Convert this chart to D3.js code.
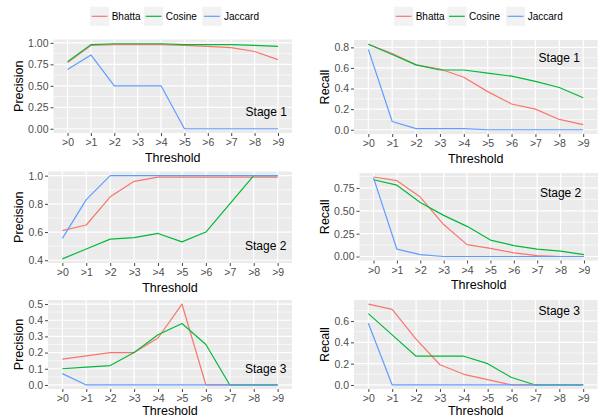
<!DOCTYPE html>
<html>
<head>
<meta charset="utf-8">
<script src="https://cdn.jsdelivr.net/npm/d3@7"></script>
<style>
  html, body { margin: 0; padding: 0; background: #ffffff; }
  svg { display: block; }
  text { font-family: "Liberation Sans", Arial, Helvetica, sans-serif; }
</style>
</head>
<body>
<svg id="chart" width="602" height="417"></svg>
<script>
// ---------------- DATA ----------------
const thresholds = [">0", ">1", ">2", ">3", ">4", ">5", ">6", ">7", ">8", ">9"];
const seriesNames = ["Bhatta", "Cosine", "Jaccard"];
const seriesColors = ["#F8766D", "#00BA38", "#619CFF"];

// Precision, Stage 1
const precStage1Bhatta  = [0.77, 0.97, 0.98, 0.98, 0.98, 0.97, 0.96, 0.945, 0.90, 0.805];
const precStage1Cosine  = [0.78, 0.98, 0.99, 0.99, 0.99, 0.98, 0.98, 0.98, 0.97, 0.96];
const precStage1Jaccard = [0.69, 0.86, 0.50, 0.50, 0.50, 0.00, 0.00, 0.00, 0.00, 0.00];
// Precision, Stage 2
const precStage2Bhatta  = [0.61, 0.65, 0.85, 0.96, 0.99, 0.99, 0.99, 0.99, 0.99, 0.99];
const precStage2Cosine  = [0.41, 0.48, 0.55, 0.56, 0.59, 0.53, 0.60, 0.80, 1.00, 1.00];
const precStage2Jaccard = [0.555, 0.83, 1.00, 1.00, 1.00, 1.00, 1.00, 1.00, 1.00, 1.00];
// Precision, Stage 3
const precStage3Bhatta  = [0.16, 0.18, 0.20, 0.20, 0.29, 0.50, 0.00, 0.00, 0.00, 0.00];
const precStage3Cosine  = [0.10, 0.11, 0.12, 0.20, 0.31, 0.38, 0.25, 0.00, 0.00, 0.00];
const precStage3Jaccard = [0.07, 0.00, 0.00, 0.00, 0.00, 0.00, 0.00, 0.00, 0.00, 0.00];
// Recall, Stage 1
const recStage1Bhatta  = [0.83, 0.74, 0.63, 0.59, 0.51, 0.37, 0.25, 0.20, 0.10, 0.05];
const recStage1Cosine  = [0.83, 0.73, 0.63, 0.58, 0.58, 0.55, 0.52, 0.47, 0.41, 0.31];
const recStage1Jaccard = [0.78, 0.08, 0.01, 0.01, 0.01, 0.00, 0.00, 0.00, 0.00, 0.00];
// Recall, Stage 2
const recStage2Bhatta  = [0.87, 0.83, 0.65, 0.35, 0.13, 0.09, 0.04, 0.01, 0.00, 0.00];
const recStage2Cosine  = [0.84, 0.78, 0.59, 0.45, 0.33, 0.18, 0.12, 0.08, 0.06, 0.02];
const recStage2Jaccard = [0.86, 0.08, 0.02, 0.00, 0.00, 0.00, 0.00, 0.00, 0.00, 0.00];
// Recall, Stage 3
const recStage3Bhatta  = [0.76, 0.71, 0.43, 0.19, 0.10, 0.05, 0.00, 0.00, 0.00, 0.00];
const recStage3Cosine  = [0.67, 0.47, 0.27, 0.27, 0.27, 0.20, 0.07, 0.00, 0.00, 0.00];
const recStage3Jaccard = [0.58, 0.00, 0.00, 0.00, 0.00, 0.00, 0.00, 0.00, 0.00, 0.00];

// Tick values and labels
const precStage1Ticks = [0, 0.25, 0.5, 0.75, 1.0];
const precStage1TickLabels = ["0.00", "0.25", "0.50", "0.75", "1.00"];
const precStage2Ticks = [0.4, 0.6, 0.8, 1.0];
const precStage2TickLabels = ["0.4", "0.6", "0.8", "1.0"];
const precStage3Ticks = [0, 0.1, 0.2, 0.3, 0.4, 0.5];
const precStage3TickLabels = ["0.0", "0.1", "0.2", "0.3", "0.4", "0.5"];
const recStage1Ticks = [0, 0.2, 0.4, 0.6, 0.8];
const recStage1TickLabels = ["0.0", "0.2", "0.4", "0.6", "0.8"];
const recStage2Ticks = [0, 0.25, 0.5, 0.75];
const recStage2TickLabels = ["0.00", "0.25", "0.50", "0.75"];
const recStage3Ticks = [0, 0.2, 0.4, 0.6];
const recStage3TickLabels = ["0.0", "0.2", "0.4", "0.6"];

const stageLabels = ["Stage 1", "Stage 2", "Stage 3"];
const precisionStageLabelY = [0.2, 0.5, 0.1];
const recallStageLabelY = [0.7, 0.7, 0.7];

// ---------------- LAYOUT ----------------
const panels = [
  { title: "Precision", stage: 0, box: {l: 53.5, r: 292, t: 39.5, b: 133},
    data: [precStage1Bhatta, precStage1Cosine, precStage1Jaccard],
    ticks: precStage1Ticks, labels: precStage1TickLabels,
    stageX: 8.5, stageY: precisionStageLabelY[0], titleX: 23 },
  { title: "Precision", stage: 1, box: {l: 48, r: 292, t: 171.5, b: 263},
    data: [precStage2Bhatta, precStage2Cosine, precStage2Jaccard],
    ticks: precStage2Ticks, labels: precStage2TickLabels,
    stageX: 8.5, stageY: precisionStageLabelY[1], titleX: 23 },
  { title: "Precision", stage: 2, box: {l: 48, r: 292, t: 300, b: 389},
    data: [precStage3Bhatta, precStage3Cosine, precStage3Jaccard],
    ticks: precStage3Ticks, labels: precStage3TickLabels,
    stageX: 8.5, stageY: precisionStageLabelY[2], titleX: 23 },
  { title: "Recall", stage: 0, box: {l: 354, r: 597.5, t: 40, b: 134},
    data: [recStage1Bhatta, recStage1Cosine, recStage1Jaccard],
    ticks: recStage1Ticks, labels: recStage1TickLabels,
    stageX: 8, stageY: recallStageLabelY[0], titleX: 329 },
  { title: "Recall", stage: 1, box: {l: 359.5, r: 598, t: 173, b: 260.5},
    data: [recStage2Bhatta, recStage2Cosine, recStage2Jaccard],
    ticks: recStage2Ticks, labels: recStage2TickLabels,
    stageX: 8, stageY: recallStageLabelY[1], titleX: 329 },
  { title: "Recall", stage: 2, box: {l: 354, r: 597.5, t: 300, b: 389},
    data: [recStage3Bhatta, recStage3Cosine, recStage3Jaccard],
    ticks: recStage3Ticks, labels: recStage3TickLabels,
    stageX: 8, stageY: recallStageLabelY[2], titleX: 329 }
];

const legendKeyX = [[90, 144, 202.3], [394, 447.3, 506]];
const legendTop = 6.7, keySize = 19.2;

const svg = d3.select("#chart");
const tickColor = "#333333", tickTextColor = "#4D4D4D";

panels.forEach(p => {
  const g = svg.append("g");
  const {l, r, t, b} = p.box;

  const x = d3.scalePoint().domain(thresholds).range([l, r]).padding(0.6);
  const all = p.data.flat();
  const lo = d3.min(all), hi = d3.max(all);
  const pad = (hi - lo) * 0.05;
  const y = d3.scaleLinear().domain([lo - pad, hi + pad]).range([b, t]);

  // panel background
  g.append("rect").attr("x", l).attr("y", t).attr("width", r - l).attr("height", b - t)
    .attr("fill", "#EBEBEB");

  // minor gridlines (midpoints between major ticks)
  const step = p.ticks[1] - p.ticks[0];
  const minor = [];
  for (let i = -1; i < p.ticks.length; i++) {
    const v = p.ticks[0] + step * (i + 0.5);
    if (v > y.domain()[0] && v < y.domain()[1]) minor.push(v);
  }
  g.selectAll(".minor").data(minor).enter().append("line")
    .attr("x1", l).attr("x2", r).attr("y1", d => y(d)).attr("y2", d => y(d))
    .attr("stroke", "#ffffff").attr("stroke-width", 0.6);

  // major gridlines
  g.selectAll(".majY").data(p.ticks).enter().append("line")
    .attr("x1", l).attr("x2", r).attr("y1", d => y(d)).attr("y2", d => y(d))
    .attr("stroke", "#ffffff").attr("stroke-width", 1.2);
  g.selectAll(".majX").data(thresholds).enter().append("line")
    .attr("x1", d => x(d)).attr("x2", d => x(d)).attr("y1", t).attr("y2", b)
    .attr("stroke", "#ffffff").attr("stroke-width", 1.2);

  // lines
  const line = d3.line().x((d, i) => x(thresholds[i])).y(d => y(d));
  p.data.forEach((s, k) => {
    g.append("path").datum(s).attr("d", line)
      .attr("fill", "none").attr("stroke", seriesColors[k])
      .attr("stroke-width", 1.2).attr("stroke-linejoin", "round");
  });

  // stage label
  g.append("text")
    .attr("x", x(thresholds[Math.floor(p.stageX)]) + (p.stageX % 1) * x.step())
    .attr("y", y(p.stageY)).attr("dy", "0.36em")
    .attr("text-anchor", "middle").attr("font-size", 12).attr("fill", "#000")
    .text(stageLabels[p.stage]);

  // y axis
  const yAxis = d3.axisLeft(y).tickValues(p.ticks)
    .tickFormat((d, i) => p.labels[i]).tickSize(3).tickPadding(2);
  const ya = g.append("g").attr("transform", `translate(${l},0)`).call(yAxis);
  ya.select(".domain").remove();
  ya.selectAll("line").attr("stroke", tickColor).attr("stroke-width", 0.9);
  ya.selectAll("text").attr("fill", tickTextColor).attr("font-size", 10.5)
    .attr("font-family", "'Liberation Sans', Arial, sans-serif");

  // x axis
  const xAxis = d3.axisBottom(x).tickSize(3).tickPadding(3);
  const xa = g.append("g").attr("transform", `translate(0,${b})`).call(xAxis);
  xa.select(".domain").remove();
  xa.selectAll("line").attr("stroke", tickColor).attr("stroke-width", 0.9);
  xa.selectAll("text").attr("fill", tickTextColor).attr("font-size", 10.5)
    .attr("font-family", "'Liberation Sans', Arial, sans-serif");

  // axis titles
  g.append("text").attr("x", (l + r) / 2).attr("y", Math.min(b + 28.5, 414.5))
    .attr("text-anchor", "middle").attr("font-size", 12.5).attr("fill", "#000")
    .text("Threshold");
  g.append("text")
    .attr("transform", `translate(${p.titleX},${(t + b) / 2}) rotate(-90)`)
    .attr("text-anchor", "middle").attr("font-size", 12.5).attr("fill", "#000")
    .text(p.title);
});

// legends
legendKeyX.forEach(xs => {
  const lg = svg.append("g");
  seriesNames.forEach((name, k) => {
    const kx = xs[k];
    lg.append("rect").attr("x", kx).attr("y", legendTop)
      .attr("width", keySize).attr("height", keySize).attr("fill", "#F2F2F2");
    lg.append("line").attr("x1", kx + 1.7).attr("x2", kx + keySize - 1.7)
      .attr("y1", legendTop + keySize / 2).attr("y2", legendTop + keySize / 2)
      .attr("stroke", seriesColors[k]).attr("stroke-width", 1.2);
    lg.append("text").attr("x", kx + keySize + 2.5).attr("y", legendTop + keySize / 2)
      .attr("dy", "0.36em").attr("font-size", 10).attr("fill", "#000")
      .text(name);
  });
});
</script>
</body>
</html>
